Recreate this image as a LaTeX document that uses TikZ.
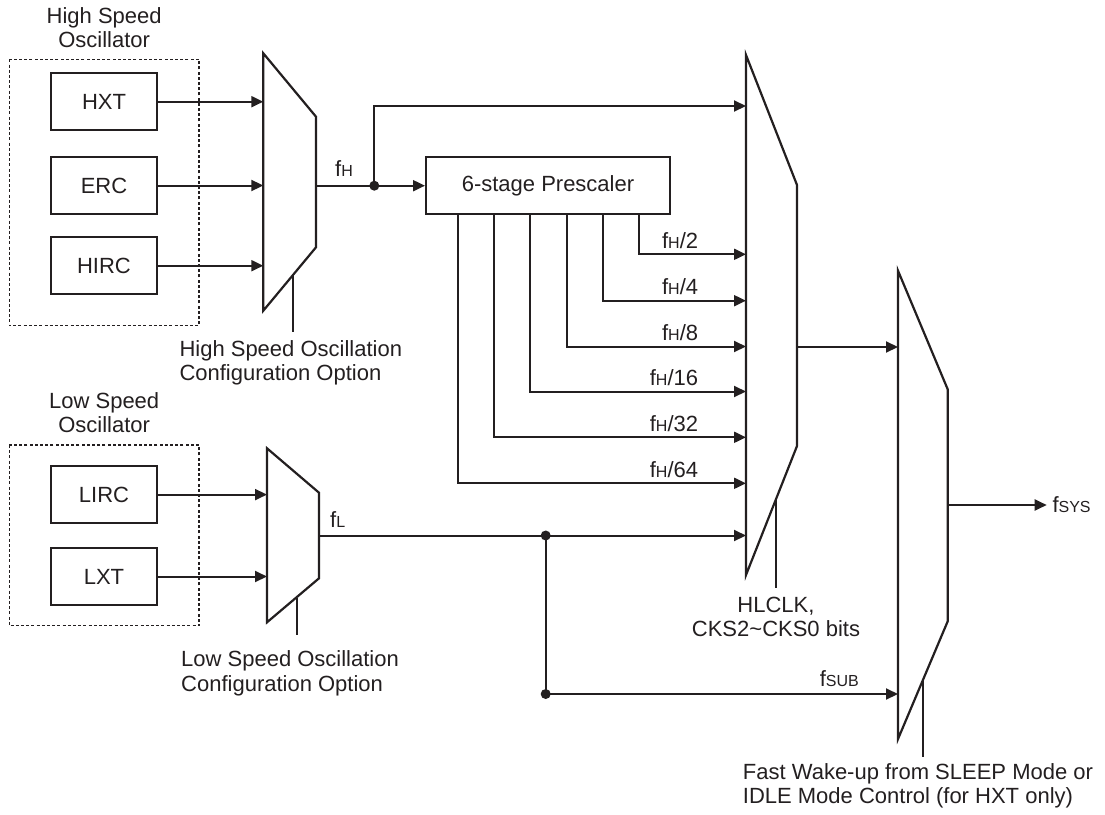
\documentclass[tikz,border=0pt]{standalone}
\usepackage{fontspec}
\setmainfont{Liberation Sans}
\usetikzlibrary{arrows.meta}
\definecolor{ink}{RGB}{35,31,32}
\newcommand\sbs[1]{{\fontsize{16}{16}\selectfont #1}}
\begin{document}
\begin{tikzpicture}[x=1pt,y=-1pt,
  every node/.style={text=ink},
  lbl/.style={inner sep=0pt,font=\fontsize{22}{24.5}\selectfont},
  blk/.style={draw=ink,line width=2pt,minimum width=106pt,minimum height=56.7pt,inner sep=0pt,font=\fontsize{22}{24.5}\selectfont},
  wire/.style={draw=ink,line width=2pt},
  arr/.style={draw=ink,line width=2pt,-{Triangle[length=12pt,width=11pt]}},
  muxs/.style={draw=ink,line width=2.2pt,line join=miter},
  grp/.style={draw=ink,line width=1.4pt,dash pattern=on 3pt off 2.2pt},
  jdot/.style={circle,fill=ink,inner sep=0pt,minimum size=10pt}]
\useasboundingbox (0,0) rectangle (1105,814);

% oscillator groups
\draw[grp] (9.3,59.3) rectangle (199,325.7);
\draw[grp] (9.3,445) rectangle (199,625.7);
\node[lbl,align=center,anchor=north] (hsT) at (104.2,7.3) {High Speed\\Oscillator};
\node[lbl,align=center,anchor=north] (lsT) at (104.2,392) {Low Speed\\Oscillator};

\node[blk] (HXT) at (104,101.7) {HXT};
\node[blk] (ERC) at (104,185.5) {ERC};
\node[blk] (HIRC) at (104,265.7) {HIRC};
\node[blk] (LIRC) at (104,494.6) {LIRC};
\node[blk] (LXT) at (104,576.5) {LXT};

% multiplexers
\draw[muxs] (263.3,53.3) -- (316,116.7) -- (316,247.3) -- (263.3,310.7) -- cycle;
\draw[muxs] (267,448.3) -- (319,492.7) -- (319,578.3) -- (267,622.3) -- cycle;
\draw[muxs] (746,55) -- (797,185) -- (797,446) -- (746,575) -- cycle;
\draw[muxs] (898,270.7) -- (947.7,389.3) -- (947.7,621.3) -- (898,739) -- cycle;

\coordinate (hsL) at (263.3,0);
\coordinate (lsL) at (267,0);
\draw[arr] (HXT.east) -- (HXT.east -| hsL);
\draw[arr] (ERC.east) -- (ERC.east -| hsL);
\draw[arr] (HIRC.east) -- (HIRC.east -| hsL);
\draw[arr] (LIRC.east) -- (LIRC.east -| lsL);
\draw[arr] (LXT.east) -- (LXT.east -| lsL);

% prescaler
\node[blk,minimum width=244pt,minimum height=57.3pt] (pre) at (548,185.7) {6-stage Prescaler};

% fH
\coordinate (hsO) at (316,185.7);
\node[jdot] (dH) at (374.3,185.7) {};
\coordinate (m1H) at (746,106);
\draw[wire] (hsO) -- (dH.center);
\draw[arr] (dH.center) -- (pre.west);
\draw[arr] (dH.center) |- (m1H);
\node[lbl,anchor=base west] (fH) at (335,176.7) {f\sbs{H}};

% prescaler taps
\foreach \x/\y/\n in {638.7/254.3/2, 602.7/300.7/4, 566.7/346.5/8, 530/391.5/16, 494.3/437.3/32, 458.3/483.3/64}{
  \coordinate (tx\n) at (\x,0);
  \coordinate (m1d\n) at (746,\y);
  \draw[arr] (pre.south -| tx\n) |- (m1d\n);
  \node[lbl,anchor=base east] (lb\n) at (698.3,\y-6) {f\sbs{H}/\n};
}

% fL
\coordinate (lsO) at (319,535.5);
\node[jdot] (dL) at (545.7,535.5) {};
\node[jdot] (dS) at (545.7,694) {};
\coordinate (m1L) at (746,535.5);
\coordinate (m2S) at (898,694);
\draw[wire] (lsO) -- (dL.center);
\draw[arr] (dL.center) -- (m1L);
\draw[wire] (dL.center) -- (dS.center);
\draw[arr] (dS.center) -- (m2S);
\node[lbl,anchor=base west] (fL) at (330,527.7) {f\sbs{L}};
\node[lbl,anchor=base east] (fSUB) at (859,686.3) {f\sbs{SUB}};

% mux1 -> mux2 -> fsys
\coordinate (m1O) at (797,347);
\coordinate (m2A) at (898,347);
\draw[arr] (m1O) -- (m2A);
\coordinate (m2O) at (947.7,505);
\coordinate (fsE) at (1046.7,505);
\draw[arr] (m2O) -- (fsE);
\node[lbl,anchor=base west] (fSYS) at (1052.3,512.3) {f\sbs{SYS}};

% control lines
\coordinate (c1a) at (293.3,274.6); \coordinate (c1b) at (293.3,332);
\coordinate (c2a) at (296.7,597.7); \coordinate (c2b) at (296.7,635);
\coordinate (c3a) at (776,499.1);   \coordinate (c3b) at (776,588);
\coordinate (c4a) at (922.7,680.5); \coordinate (c4b) at (922.7,757.3);
\draw[wire] (c1a) -- (c1b);
\draw[wire] (c2a) -- (c2b);
\draw[wire] (c3a) -- (c3b);
\draw[wire] (c4a) -- (c4b);

\node[lbl,align=left,anchor=north west] (hsC) at (179.3,340) {High Speed Oscillation\\Configuration Option};
\node[lbl,align=left,anchor=north west] (lsC) at (181,650.7) {Low Speed Oscillation\\Configuration Option};
\node[lbl,align=center,anchor=north] (hlC) at (776,596.5) {HLCLK,\\CKS2\char`~CKS0 bits};
\node[lbl,align=left,anchor=north west] (fwC) at (742.7,763) {Fast Wake-up from SLEEP Mode or\\IDLE Mode Control (for HXT only)};
\end{tikzpicture}
\end{document}
